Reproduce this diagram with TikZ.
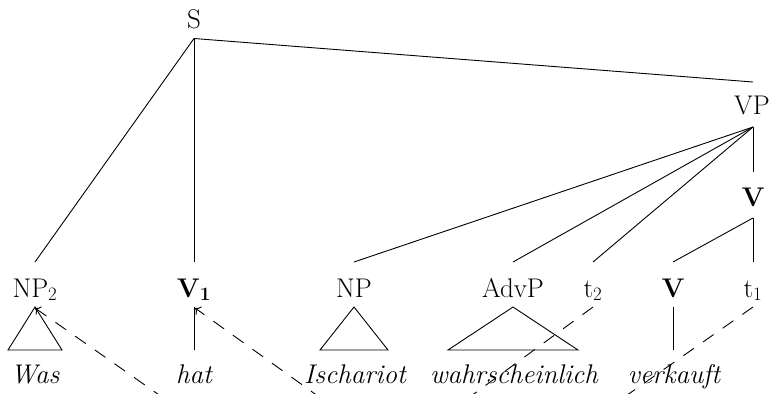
\documentclass[tikz,border=0pt]{standalone}
\usepackage{fontspec}
\usetikzlibrary{arrows.meta}
\begin{document}
\begin{tikzpicture}[x=1pt,y=-1pt,
  lab/.style={inner sep=0pt, anchor=base, font=\fontsize{27}{32}\selectfont},
  wrd/.style={lab, font=\fontsize{27}{32}\selectfont\itshape},
  edge/.style={line width=0.9pt},
  mv/.style={line width=0.9pt, dash pattern=on 13pt off 11pt},
  mvtip/.style={-{To[length=5pt,width=10pt]}}]
\useasboundingbox (0,0) rectangle (772,394);
% labels
\node[lab] (S)   at (194,28)  {S};
\node[lab] (VP)  at (752,114) {VP};
\node[lab] (Vu)  at (753,206) {\textbf{V}};
\node[lab] (NPa) at (35,297)  {NP\textsubscript{2}};
\node[lab] (Va)  at (194,297) {\textbf{V\textsubscript{1}}};
\node[lab] (NPb) at (354,297) {NP};
\node[lab] (Adv) at (513,297) {AdvP};
\node[lab] (ta)  at (593,297) {t\textsubscript{2}};
\node[lab] (Vb)  at (673,297) {\textbf{V}};
\node[lab] (tb)  at (753,297) {t\textsubscript{1}};
% words
\node[wrd] (was)  at (35,383)  {Was};
\node[wrd] (hat)  at (194,383) {hat};
\node[wrd] (isc)  at (355,383) {Ischariot};
\node[wrd] (wahr) at (514,383) {wahrscheinlich};
\node[wrd] (verk) at (674,383) {verkauft};
% tree edges
\draw[edge] ([yshift=-10.5pt]S.base) -- ([xshift=1pt,yshift=32pt]VP.base);
\draw[edge] ([yshift=-10.5pt]S.base) -- ([yshift=35pt]NPa.base);
\draw[edge] ([yshift=-10.5pt]S.base) -- ([yshift=35pt]Va.base);
\foreach \n in {NPb,Adv,ta}
  \draw[edge] ([xshift=1pt,yshift=-13pt]VP.base) -- ([yshift=35pt]\n.base);
\draw[edge] ([xshift=1pt,yshift=-13pt]VP.base) -- ([yshift=34pt]Vu.base);
\draw[edge] ([yshift=-12pt]Vu.base) -- ([yshift=35pt]Vb.base);
\draw[edge] ([yshift=-12pt]Vu.base) -- ([yshift=35pt]tb.base);
% triangles and unary lines
\draw[edge] ([yshift=-10pt]NPa.base) -- ([xshift=-27pt,yshift=33pt]was.base)
  -- ([xshift=27pt,yshift=33pt]was.base) -- cycle;
\draw[edge] ([yshift=-10pt]NPb.base) -- ([xshift=-35pt,yshift=33pt]isc.base)
  -- ([xshift=33pt,yshift=33pt]isc.base) -- cycle;
\draw[edge] ([yshift=-10pt]Adv.base) -- ([xshift=-66pt,yshift=33pt]wahr.base)
  -- ([xshift=64pt,yshift=33pt]wahr.base) -- cycle;
\draw[edge] ([yshift=33pt]hat.base) -- ([yshift=-10pt]Va.base);
\draw[edge] ([yshift=-10pt]Vb.base) -- ([xshift=-1pt,yshift=33pt]verk.base);
% movement lines
\coordinate (m1) at (319,507);
\coordinate (m2) at (470,505);
\begin{scope}
\clip (0,0) rectangle (772,394);
\draw[mv,mvtip] ([yshift=-10pt]ta.base) -- (m1) -- ([yshift=-11pt]NPa.base);
\draw[mv,mvtip] ([yshift=-10pt]tb.base) -- (m2) -- ([xshift=1pt,yshift=-11pt]Va.base);
\end{scope}
\end{tikzpicture}
\end{document}
